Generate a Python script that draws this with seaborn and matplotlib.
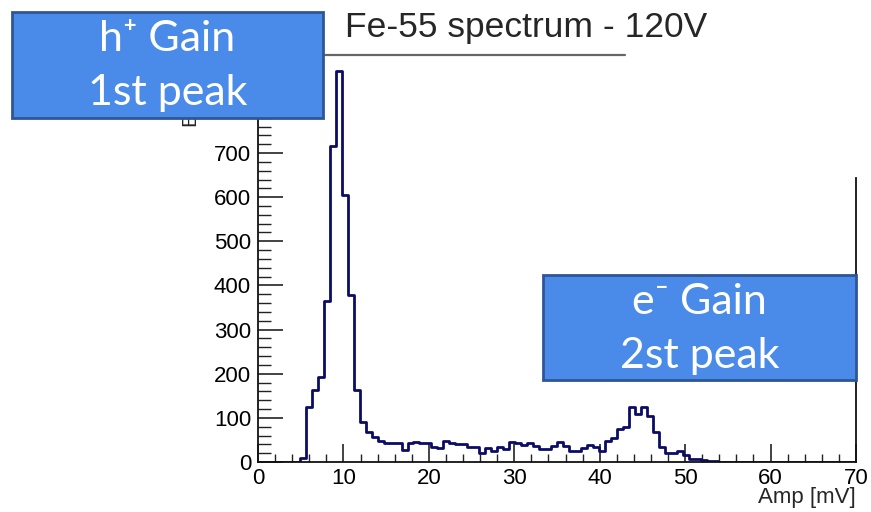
import numpy as np
import pandas as pd
import seaborn as sns
import matplotlib
matplotlib.use("Agg")
import matplotlib.pyplot as plt
from matplotlib.patches import Rectangle
from matplotlib.lines import Line2D
from matplotlib.ticker import MultipleLocator

# ---- data (100 bins, 0..70 mV, width 0.7) ----
bin_width = 0.7
amp_range = (0, 70)
counts = [0, 0, 0, 0, 0, 0, 0, 9, 124, 163,
          193, 364, 715, 885, 605, 379, 163, 90, 69, 57,
          48, 42, 42, 42, 28, 43, 46, 44, 42, 35,
          31, 48, 44, 40, 41, 35, 35, 21, 31, 26,
          35, 30, 45, 42, 38, 42, 36, 29, 29, 36,
          45, 37, 26, 26, 31, 39, 35, 25, 48, 54,
          74, 80, 125, 109, 125, 104, 69, 35, 21, 21,
          26, 16, 6, 6, 5, 2, 2, 0, 0, 0,
          0, 0, 0, 0, 0, 0, 0, 0, 0, 0,
          0, 0, 0, 0, 0, 0, 0, 0, 0, 0]
title = "Fe-55 spectrum - 120V"
xlabel = "Amp [mV]"
ylabel = "Entries"
x_ticks = [0, 10, 20, 30, 40, 50, 60, 70]
y_ticks = [0, 100, 200, 300, 400, 500, 600, 700, 800]
box1_lines = ["h\u207a Gain", "1st peak"]
box2_lines = ["e\u207b Gain", "2st peak"]

centers = amp_range[0] + bin_width * (np.arange(len(counts)) + 0.5)
df = pd.DataFrame({"amp": centers, "n": counts})

sns.set_theme(style="white")
plt.rcParams["font.family"] = ["Liberation Sans", "DejaVu Sans"]

W, H = 871, 512
fig = plt.figure(figsize=(W / 100, H / 100), dpi=100)
ax = fig.add_axes([258 / W, 50 / H, 598 / W, 410.5 / H])

sns.histplot(data=df, x="amp", weights="n", binwidth=bin_width,
             binrange=amp_range, element="step", fill=False,
             color="#0c0c66", linewidth=2.0, ax=ax)

ax.set_xlim(0, 70)
ax.set_ylim(0, 930)
ax.set_xlabel("")
ax.set_ylabel("")
ax.set_xticks(x_ticks)
ax.set_yticks(y_ticks)
ax.xaxis.set_minor_locator(MultipleLocator(2))
ax.yaxis.set_minor_locator(MultipleLocator(20))
ax.tick_params(axis="both", which="both", direction="in", colors="#222222",
               labelcolor="black", labelsize=16)
ax.tick_params(axis="y", which="major", length=18, width=1.2, pad=5)
ax.tick_params(axis="y", which="minor", length=9, width=1.0)
ax.tick_params(axis="x", which="major", length=13, width=1.2, pad=4)
ax.tick_params(axis="x", which="minor", length=6, width=1.0)
ax.tick_params(axis="y", which="both", left=True)
ax.tick_params(axis="x", which="both", bottom=True)

for s in ["left", "bottom", "right"]:
    ax.spines[s].set_color("#111111")
    ax.spines[s].set_linewidth(1.3)
ax.spines["top"].set_visible(False)
ax.spines["right"].set_bounds(0, 644)

ax.text(1.0, -25 / 410.5, xlabel, transform=ax.transAxes, ha="right", va="top",
        fontsize=16)
fig.text(190 / W, 1 - 126 / H, ylabel, rotation=90, ha="center", va="bottom",
         fontsize=15)

# title and its underline
fig.text(345 / W, 1 - 28 / H, title, ha="left", va="center", fontsize=25.5)
fig.add_artist(Line2D([325 / W, 625 / W], [1 - 55 / H, 1 - 55 / H],
                      color="#666666", lw=1.6, zorder=3))

# annotation boxes
box_fill = "#4a8bea"
box_edge = "#2f5597"
for (x0, y0, x1, y1), lines in [((12, 12, 323, 118), box1_lines),
                                ((543, 275, 856, 380), box2_lines)]:
    fig.add_artist(Rectangle((x0 / W, 1 - y1 / H), (x1 - x0) / W, (y1 - y0) / H,
                             facecolor=box_fill, edgecolor=box_edge, lw=2,
                             zorder=10))
    cx = (x0 + x1) / 2 / W
    fig.text(cx, 1 - (y0 + 27) / H, lines[0], ha="center", va="center",
             fontsize=31, color="white", zorder=11,
             family=["Lato", "Noto Sans", "DejaVu Sans"])
    fig.text(cx, 1 - (y0 + 81) / H, lines[1], ha="center", va="center",
             fontsize=31, color="white", zorder=11,
             family=["Lato", "Noto Sans", "DejaVu Sans"])

fig.savefig("out.png", dpi=100, facecolor="white")
